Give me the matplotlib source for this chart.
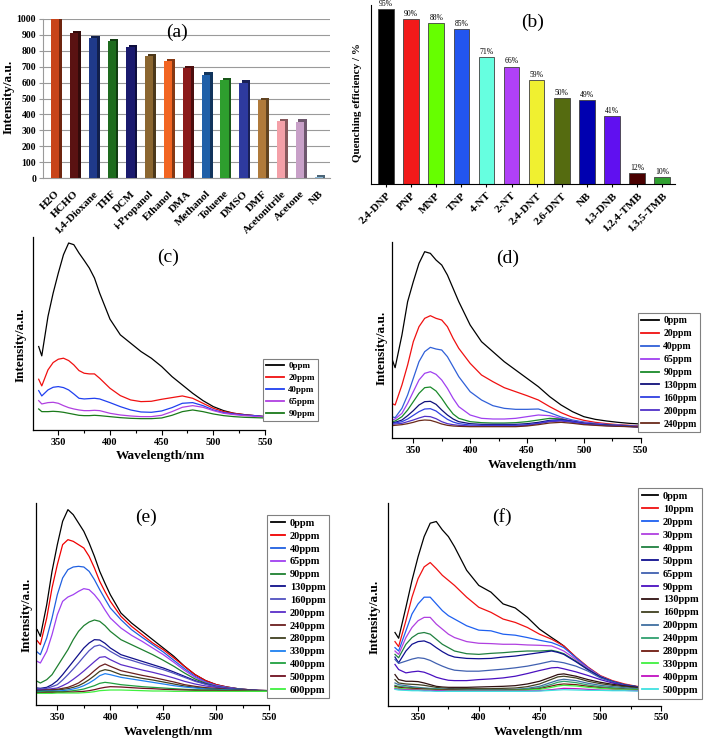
import numpy as np
import matplotlib
matplotlib.use("Agg")
import matplotlib.pyplot as plt
import matplotlib.colors as mcolors

plt.rcParams['font.family'] = ['Liberation Serif', 'DejaVu Serif']

W, H = 709, 742

# ---------------- data: panel (a) ----------------
solvents = ['H2O', 'HCHO', '1,4-Dioxane', 'THF', 'DCM', 'i-Propanol', 'Ethanol', 'DMA',
            'Methanol', 'Toluene', 'DMSO', 'DMF', 'Acetonitrile', 'Acetone', 'NB']
solvent_intensity = [1000, 910, 880, 860, 825, 765, 735, 690, 650, 615, 600, 490, 360, 355, 5]
solvent_colors = ['#C8441A', '#5A1212', '#1F3A8A', '#1E6B1E', '#1A1A6E', '#8B6630', '#F26522',
                  '#8B1A1A', '#1F5FA8', '#2E9E2E', '#2E3A9E', '#B07A3A', '#F4A0A8', '#C8A0C8', '#8AB8D8']

# ---------------- data: panel (b) ----------------
analytes = ['2,4-DNP', 'PNP', 'MNP', 'TNP', '4-NT', '2-NT', '2,4-DNT', '2,6-DNT', 'NB',
            '1,3-DNB', '1,2,4-TMB', '1,3,5-TMB']
quench = [95, 90, 88, 85, 71, 66, 59, 50, 49, 41, 12, 10]
analyte_colors = ['#000000', '#F21A1A', '#66FF00', '#2255EE', '#66FFE0', '#B040F8', '#F0F030',
                  '#556B10', '#0000B0', '#6010F0', '#4A0000', '#30A030']

# ---------------- data: panel (c) ----------------
wl_c = [331, 334, 340, 345, 350, 355, 360, 365, 370, 375, 380, 385, 390, 400, 410, 420, 430,
        440, 450, 460, 470, 480, 490, 500, 510, 520, 530, 540, 550]
labels_c = ['0ppm', '20ppm', '40ppm', '65ppm', '90ppm']
colors_c = ['#000000', '#F01010', '#2040F0', '#B040E0', '#1A7A1A']
c_0 = [250, 222, 340, 410, 470, 525, 560, 555, 530, 508, 485, 455, 410, 332, 285, 260, 235,
       215, 190, 160, 135, 110, 88, 70, 58, 50, 46, 43, 40]
c_20 = [152, 132, 180, 202, 212, 215, 208, 195, 178, 170, 168, 168, 155, 125, 103, 90, 85,
        86, 92, 97, 102, 95, 80, 65, 55, 50, 46, 43, 40]
c_40 = [118, 102, 120, 128, 130, 127, 120, 108, 95, 93, 94, 95, 93, 82, 70, 60, 54,
        53, 57, 67, 80, 82, 73, 60, 52, 48, 45, 43, 40]
c_65 = [88, 78, 82, 83, 80, 73, 67, 63, 60, 58, 58, 59, 58, 50, 45, 42, 40,
        40, 44, 55, 68, 73, 68, 58, 50, 46, 43, 41, 39]
c_90 = [63, 55, 55, 56, 55, 53, 50, 47, 44, 43, 43, 44, 43, 40, 37, 35, 34,
        34, 36, 44, 55, 60, 55, 48, 43, 40, 38, 37, 36]

# ---------------- data: panel (d) ----------------
wl_d = [331, 334, 340, 345, 350, 355, 360, 365, 370, 375, 380, 385, 390, 400, 410, 420, 430,
        440, 450, 460, 470, 480, 490, 500, 510, 520, 530, 540, 550]
labels_d = ['0ppm', '20ppm', '40ppm', '65ppm', '90ppm', '130ppm', '160ppm', '200ppm', '240ppm']
colors_d = ['#000000', '#F01010', '#3060D8', '#A040F0', '#1A8A2A', '#10107A', '#3040E0',
            '#5030C8', '#6A2A1A']
d_0 = [239, 211, 309, 409, 469, 524, 559, 554, 534, 519, 489, 449, 409, 339, 289, 259, 229,
       204, 179, 154, 124, 99, 79, 64, 56, 51, 47, 44, 42]
d_20 = [104, 99, 159, 219, 289, 334, 359, 367, 359, 354, 334, 299, 269, 224, 189, 169, 151,
        139, 127, 114, 94, 76, 62, 53, 47, 43, 40, 38, 36]
d_40 = [64, 61, 89, 129, 179, 229, 259, 272, 267, 264, 244, 214, 184, 139, 114, 97, 89,
        86, 86, 87, 76, 63, 54, 48, 44, 41, 39, 37, 35]
d_65 = [54, 57, 74, 104, 139, 174, 194, 199, 191, 174, 149, 119, 94, 69, 59, 57, 57,
        59, 64, 69, 67, 59, 51, 46, 43, 40, 38, 36, 34]
d_90 = [49, 51, 64, 84, 109, 134, 151, 153, 141, 119, 94, 72, 59, 49, 46, 45, 45,
        46, 49, 54, 59, 57, 49, 44, 41, 39, 37, 35, 33]
d_130 = [46, 47, 54, 67, 82, 99, 109, 110, 101, 84, 69, 57, 49, 43, 41, 41, 41,
         41, 43, 47, 53, 55, 50, 44, 41, 39, 37, 35, 33]
d_160 = [44, 45, 49, 57, 68, 79, 87, 88, 81, 68, 56, 48, 43, 39, 38, 38, 38,
         38, 40, 44, 51, 53, 49, 43, 40, 38, 36, 35, 33]
d_200 = [41, 42, 44, 49, 54, 60, 65, 64, 58, 49, 43, 40, 38, 36, 36, 36, 36,
         36, 38, 43, 49, 51, 47, 42, 39, 37, 36, 34, 33]
d_240 = [37, 38, 40, 43, 47, 52, 54, 53, 48, 42, 38, 36, 35, 34, 34, 34, 34,
         34, 36, 40, 45, 47, 44, 40, 38, 36, 35, 34, 33]

# ---------------- data: panel (e) ----------------
wl_e = [331, 334, 340, 345, 350, 355, 360, 365, 370, 375, 380, 385, 390, 395, 400, 410, 420,
        430, 440, 450, 460, 470, 480, 490, 500, 510, 520, 530, 540, 550]
labels_e = ['0ppm', '20ppm', '40ppm', '65ppm', '90ppm', '130ppm', '160ppm', '200ppm', '240ppm',
            '280ppm', '330ppm', '400ppm', '500ppm', '600ppm']
colors_e = ['#000000', '#F00000', '#2060E0', '#A040F0', '#1E8030', '#10108A', '#5050C0',
            '#5A2EC8', '#6B1F1F', '#404020', '#1E80F0', '#20A040', '#701020', '#40F040']
e_0 = [226, 206, 301, 401, 481, 551, 586, 571, 546, 521, 486, 446, 401, 365, 331, 276, 246,
       221, 196, 171, 146, 116, 91, 73, 61, 54, 49, 46, 44, 43]
e_20 = [193, 181, 261, 351, 421, 481, 496, 491, 481, 471, 446, 411, 371, 340, 311, 266, 236,
        211, 186, 166, 141, 116, 91, 73, 61, 54, 49, 46, 44, 43]
e_40 = [159, 151, 201, 261, 331, 381, 406, 414, 416, 414, 401, 376, 346, 318, 291, 256, 226,
        203, 181, 159, 134, 109, 86, 69, 59, 53, 49, 46, 44, 43]
e_65 = [131, 126, 161, 211, 271, 311, 324, 331, 341, 349, 346, 331, 311, 285, 261, 231, 209,
        191, 171, 151, 128, 104, 83, 67, 58, 52, 48, 45, 43, 42]
e_90 = [71, 66, 76, 91, 116, 141, 166, 196, 221, 238, 249, 255, 251, 238, 221, 196, 181,
        166, 151, 134, 116, 96, 78, 65, 56, 51, 48, 45, 43, 42]
e_130 = [51, 50, 53, 61, 73, 91, 111, 131, 151, 171, 186, 196, 195, 185, 171, 151, 141,
         131, 121, 111, 99, 86, 73, 63, 55, 50, 47, 45, 43, 42]
e_160 = [49, 48, 50, 55, 61, 75, 91, 108, 126, 145, 163, 176, 180, 172, 161, 143, 134,
         124, 115, 106, 95, 83, 71, 62, 55, 50, 47, 45, 43, 42]
e_200 = [46, 46, 47, 49, 51, 58, 66, 77, 89, 102, 116, 130, 143, 145, 136, 121, 113,
         105, 98, 90, 81, 71, 63, 57, 53, 49, 46, 44, 43, 42]
e_240 = [44, 44, 45, 46, 47, 50, 53, 59, 66, 77, 89, 103, 116, 123, 116, 103, 96,
         89, 83, 76, 69, 61, 56, 52, 50, 47, 45, 44, 43, 42]
e_280 = [43, 43, 44, 44, 45, 47, 49, 53, 58, 66, 76, 88, 101, 106, 103, 91, 86,
         80, 75, 69, 63, 57, 53, 50, 48, 46, 45, 44, 43, 42]
e_330 = [41, 41, 42, 42, 42, 43, 45, 48, 52, 58, 66, 76, 88, 94, 91, 83, 78,
         73, 68, 63, 58, 54, 51, 48, 47, 45, 44, 43, 43, 42]
e_400 = [39, 39, 40, 40, 40, 40, 41, 43, 45, 48, 53, 58, 65, 68, 66, 61, 58,
         55, 53, 51, 49, 47, 46, 45, 45, 44, 43, 43, 42, 42]
e_500 = [37, 37, 38, 38, 38, 38, 39, 39, 40, 41, 43, 46, 50, 53, 55, 54, 52,
         50, 49, 47, 46, 45, 44, 44, 44, 43, 43, 42, 42, 41]
e_600 = [35, 35, 35, 35, 36, 36, 36, 36, 36, 37, 38, 40, 43, 44, 45, 45, 44,
         43, 42, 42, 41, 41, 41, 41, 41, 41, 41, 41, 41, 41]

# ---------------- data: panel (f) ----------------
wl_f = [331, 334, 340, 345, 350, 355, 360, 365, 370, 375, 380, 390, 400, 410, 420, 430, 440,
        450, 460, 465, 470, 480, 490, 500, 510, 520, 530, 540, 550]
labels_f = ['0ppm', '10ppm', '20ppm', '30ppm', '40ppm', '50ppm', '65ppm', '90ppm', '130ppm',
            '160ppm', '200ppm', '240ppm', '280ppm', '330ppm', '400ppm', '500ppm']
colors_f = ['#000000', '#F01010', '#1E60F0', '#B040E0', '#208040', '#101090', '#4060B0',
            '#4A10C0', '#301010', '#404020', '#4070A0', '#30A070', '#701A10', '#40F040',
            '#C010C0', '#40E0E0']
f_0 = [217, 200, 292, 372, 442, 502, 542, 547, 522, 502, 472, 402, 357, 337, 302, 290, 262,
       227, 202, 190, 177, 142, 112, 87, 72, 62, 56, 52, 49]
f_10 = [190, 175, 252, 322, 377, 412, 425, 407, 387, 372, 357, 322, 292, 277, 257, 247, 232,
        212, 197, 187, 177, 144, 114, 89, 74, 64, 57, 53, 50]
f_20 = [172, 162, 222, 272, 302, 322, 322, 302, 282, 267, 257, 237, 224, 222, 212, 209, 202,
        194, 187, 180, 172, 142, 112, 87, 72, 62, 56, 52, 49]
f_30 = [162, 152, 202, 232, 252, 262, 262, 242, 227, 212, 202, 190, 185, 184, 182, 182, 180,
        179, 177, 170, 162, 137, 110, 86, 71, 61, 56, 52, 49]
f_40 = [152, 142, 182, 202, 214, 217, 212, 197, 182, 172, 162, 154, 152, 155, 157, 160, 162,
        162, 164, 160, 154, 132, 107, 85, 71, 61, 56, 52, 49]
f_50 = [144, 127, 162, 182, 190, 192, 185, 172, 160, 150, 144, 140, 139, 140, 144, 147, 152,
        157, 162, 158, 152, 130, 106, 85, 71, 61, 56, 52, 49]
f_65 = [137, 125, 132, 138, 142, 140, 134, 125, 117, 110, 105, 102, 102, 105, 108, 112, 117,
        124, 132, 130, 127, 117, 102, 82, 70, 60, 55, 51, 48]
f_90 = [122, 107, 97, 100, 102, 99, 92, 84, 79, 75, 74, 74, 77, 79, 82, 87, 95,
        104, 112, 113, 109, 100, 89, 77, 67, 59, 54, 50, 47]
f_130 = [92, 77, 72, 72, 71, 67, 62, 57, 55, 54, 54, 54, 55, 56, 57, 59, 64,
         72, 85, 92, 94, 87, 77, 69, 63, 58, 54, 50, 47]
f_160 = [77, 67, 64, 63, 62, 60, 57, 54, 52, 51, 50, 50, 50, 50, 51, 52, 56,
         64, 78, 85, 87, 82, 72, 65, 60, 56, 52, 49, 46]
f_200 = [67, 62, 59, 56, 54, 52, 51, 50, 49, 48, 48, 47, 47, 47, 47, 48, 51,
         57, 69, 75, 78, 74, 66, 60, 56, 53, 50, 48, 46]
f_240 = [60, 57, 55, 53, 52, 51, 50, 49, 48, 47, 47, 46, 46, 46, 46, 47, 49,
         53, 63, 69, 72, 68, 61, 56, 53, 50, 48, 47, 45]
f_280 = [57, 54, 52, 51, 50, 49, 48, 47, 47, 46, 46, 45, 45, 45, 45, 46, 47,
         50, 58, 62, 64, 62, 57, 53, 50, 48, 47, 46, 45]
f_330 = [53, 51, 49, 48, 47, 46, 46, 45, 45, 44, 44, 44, 44, 44, 44, 45, 46,
         48, 54, 58, 60, 58, 54, 51, 49, 47, 46, 45, 44]
f_400 = [50, 48, 47, 46, 46, 45, 45, 44, 44, 43, 43, 43, 43, 43, 43, 43, 43,
         44, 47, 49, 51, 50, 48, 46, 45, 45, 44, 44, 43]
f_500 = [48, 46, 45, 44, 44, 43, 43, 42, 42, 42, 42, 42, 42, 42, 42, 42, 42,
         43, 45, 46, 47, 46, 45, 45, 44, 44, 43, 43, 42]


def rect(x0, y0, x1, y1):
    """pixel box (left, top, right, bottom) -> figure fraction rect"""
    return [x0 / W, 1 - y1 / H, (x1 - x0) / W, (y1 - y0) / H]


def fpos(x, y):
    return x / W, 1 - y / H


def darken(c, f=0.55):
    r, g, b = mcolors.to_rgb(c)
    return (r * f, g * f, b * f)


fig = plt.figure(figsize=(W / 100, H / 100), dpi=100)
BOLD = dict(fontweight='bold')

# ======================= panel (a) =======================
axa = fig.add_axes(rect(43, 19, 330, 178))
xa = np.arange(len(solvents))
axa.bar(xa + 0.14, np.array(solvent_intensity) + 14, width=0.44,
        color=[darken(c) for c in solvent_colors], zorder=2, linewidth=0)
axa.bar(xa, solvent_intensity, width=0.44, color=solvent_colors, zorder=3, linewidth=0)
axa.set_xlim(-0.65, 14.6)
axa.set_ylim(0, 1000)
axa.set_yticks(np.arange(0, 1001, 100))
axa.set_axisbelow(True)
axa.yaxis.grid(True, color='#9A9A9A', lw=0.8)
for s in ['top', 'right']:
    axa.spines[s].set_visible(False)
for s in ['left', 'bottom']:
    axa.spines[s].set_color('#9A9A9A')
axa.tick_params(axis='y', length=3, color='#9A9A9A', labelsize=7, pad=2)
axa.tick_params(axis='x', length=0, pad=8)
axa.set_xticks(xa)
axa.set_xticklabels(solvents, rotation=45, ha='right', va='top', rotation_mode='anchor',
                    fontsize=8, fontweight='bold')
for t in axa.get_yticklabels():
    t.set_fontweight('bold')
fig.text(*fpos(9, 97), 'Intensity/a.u.', rotation=90, ha='center', va='center',
         fontsize=9.5, **BOLD)
fig.text(*fpos(177, 32), '(a)', ha='center', va='center', fontsize=14)

# ======================= panel (b) =======================
axb = fig.add_axes(rect(370.7, 5, 675, 184))
xb = np.arange(len(analytes))
axb.bar(xb, quench, width=0.62, color=analyte_colors, edgecolor='#404040', linewidth=0.6)
axb.set_xlim(-0.61, 11.51)
axb.set_ylim(6.5, 97.2)
for xi, v in zip(xb, quench):
    axb.text(xi, v + 0.6, f'{v}%', ha='center', va='bottom', fontsize=5.5)
for s in ['top', 'right']:
    axb.spines[s].set_visible(False)
axb.set_yticks([])
axb.set_xticks(xb)
axb.tick_params(axis='x', length=2, pad=3)
axb.set_xticklabels(analytes, rotation=45, ha='right', va='top', rotation_mode='anchor',
                    fontsize=8, fontweight='bold')
fig.text(*fpos(357, 103), 'Quenching efficiency / %', rotation=90, ha='center', va='center',
         fontsize=8, **BOLD)
fig.text(*fpos(533, 22), '(b)', ha='center', va='center', fontsize=14)


# ======================= spectra panels =======================
def spectra(box, xlim, ylim, wl, series, labels, colors, tag, tag_pos,
            ylab_pos, xlab_pos, leg_pos, leg_fs, leg_sp, leg_hl):
    ax = fig.add_axes(rect(*box))
    for ys, lab, col in zip(series, labels, colors):
        ax.plot(wl, ys, color=col, lw=0.9, label=lab)
    ax.set_xlim(*xlim)
    ax.set_ylim(*ylim)
    ax.set_xticks([350, 400, 450, 500, 550])
    ax.set_xticks([375, 425, 475, 525], minor=True)
    ax.set_yticks([])
    for s in ['top', 'right']:
        ax.spines[s].set_visible(False)
    for s in ['left', 'bottom']:
        ax.spines[s].set_linewidth(0.9)
    ax.tick_params(axis='x', which='major', length=3.5, width=0.8, labelsize=7.5, pad=2)
    ax.tick_params(axis='x', which='minor', length=2, width=0.8)
    for t in ax.get_xticklabels():
        t.set_fontweight('bold')
    fig.text(*fpos(*tag_pos), tag, ha='center', va='center', fontsize=14)
    fig.text(*fpos(*ylab_pos), 'Intensity/a.u.', rotation=90, ha='center', va='center',
             fontsize=9.5, **BOLD)
    fig.text(*fpos(*xlab_pos), 'Wavelength/nm', ha='center', va='center', fontsize=9.5, **BOLD)
    leg = ax.legend(loc='upper left', bbox_to_anchor=fpos(*leg_pos),
                    bbox_transform=fig.transFigure, frameon=True,
                    fancybox=False, framealpha=1, edgecolor='#808080',
                    handlelength=leg_hl, handletextpad=0.45, labelspacing=leg_sp,
                    borderpad=0.35, borderaxespad=0,
                    prop=dict(family=['Liberation Serif'], weight='bold', size=leg_fs))
    leg.get_frame().set_linewidth(0.8)
    for line in leg.get_lines():
        line.set_linewidth(1.3)
    return ax


spectra((33.3, 237, 265, 430), (325.8, 550), (0, 578), wl_c,
        [c_0, c_20, c_40, c_65, c_90], labels_c, colors_c,
        '(c)', (168, 257), (21, 345), (161, 456), (263, 359), 6.5, 0.40, 2.0)

spectra((391.7, 241.7, 640.7, 438), (331, 550), (0, 589), wl_d,
        [d_0, d_20, d_40, d_65, d_90, d_130, d_160, d_200, d_240], labels_d, colors_d,
        '(d)', (508, 258), (382, 348), (533, 465), (638, 313), 7, 0.40, 1.8)

spectra((35.7, 503, 269.3, 705), (329.6, 550), (0, 606), wl_e,
        [e_0, e_20, e_40, e_65, e_90, e_130, e_160, e_200, e_240, e_280, e_330, e_400,
         e_500, e_600], labels_e, colors_e,
        '(e)', (146, 517), (27, 615), (169, 732), (267, 515), 7.5, 0.34, 1.4)

spectra((388.3, 503, 661, 705.5), (325.5, 550), (0, 602), wl_f,
        [f_0, f_10, f_20, f_30, f_40, f_50, f_65, f_90, f_130, f_160, f_200, f_240, f_280,
         f_330, f_400, f_500], labels_f, colors_f,
        '(f)', (502, 517), (375, 617), (538, 732), (638, 488), 7.5, 0.35, 1.6)

fig.savefig('out.png', dpi=100)
